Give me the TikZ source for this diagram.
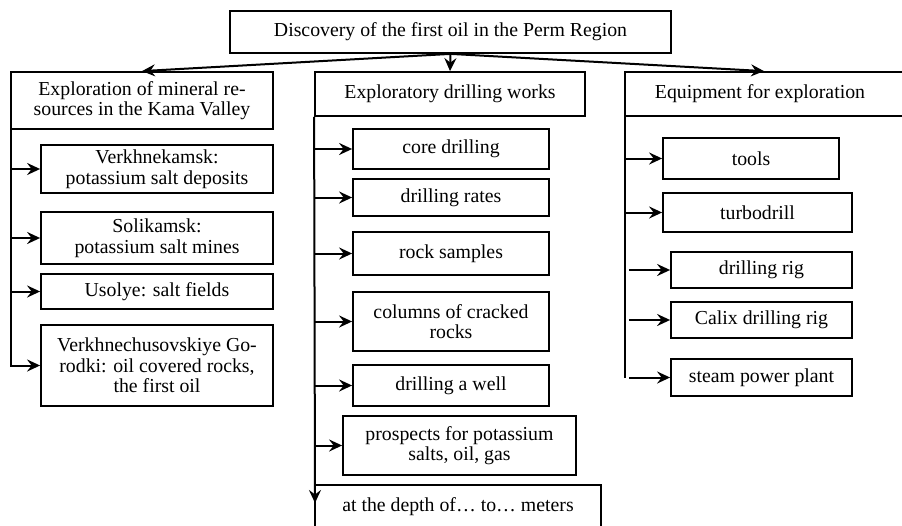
\documentclass[tikz,border=0pt]{standalone}
\usepackage{fontspec}
\setmainfont{Liberation Serif}
\usetikzlibrary{arrows.meta}

\begin{document}
\begin{tikzpicture}[x=1pt,y=-1pt,
  box/.style={draw,line width=1.8pt,align=center,inner sep=0pt,
    font=\fontsize{19.8}{20.5}\selectfont},
  arr/.style={line width=2pt,-{Stealth[length=13pt,width=12pt,inset=4.5pt]}}]
\useasboundingbox (0,0) rectangle (902,525);
\clip (0,0) rectangle (902,525);

\node [box,minimum width=441pt,minimum height=42pt] at (450.5,32) (top)
  {Discovery of the first oil in the Perm Region};

\node [box,minimum width=262pt,minimum height=57pt] at (142,100.5) (lhead)
  {Exploration of mineral re-\\sources in the Kama Valley};
\node [box,minimum width=270pt,minimum height=44pt] at (450,94) (mhead)
  {Exploratory drilling works};
\node [box,minimum width=278pt,minimum height=44pt] at (764,94) (rhead)
  {\hspace*{-4pt}Equipment for exploration\hspace*{4pt}};

  \begin{scope}[every node/.style={box,minimum width=232pt}]
    \node [minimum height=48pt] at (157,169) (vkam)
      {Verkhnekamsk:\\potassium salt deposits};
    \node [minimum height=52pt] at (157,238) (soli)
      {Solikamsk:\\potassium salt mines};
    \node [minimum height=35pt] at (157,291.5) (usol)
      {Usolye: salt fields};
    \node [minimum height=81pt] at (157,365.5) (vchu)
      {Verkhnechusovskiye Go-\\rodki: oil covered rocks,\\the first oil};
  \end{scope}

  \begin{scope}[every node/.style={box,minimum width=196pt}]
    \node [minimum height=40pt] at (451,149) (core) {core drilling};
    \node [minimum height=37pt] at (451,197.5) (rates) {drilling rates};
    \node [minimum height=43pt] at (451,253.5) (samp) {rock samples};
    \node [minimum height=59pt] at (451,321.5) (cols)
      {columns of cracked\\rocks};
    \node [minimum height=41pt] at (451,385.5) (well) {drilling a well};
  \end{scope}
  \node [box,minimum width=233pt,minimum height=59pt] at (459.5,445.5) (prosp)
    {prospects for potassium\\salts, oil, gas};
  \node [box,minimum width=286pt,minimum height=44pt] at (458,507) (depth)
    {at the depth of\dots{} to\dots{} meters};
  \coordinate (mend) at (315,503);

  \node [box,minimum width=176pt,minimum height=41pt] at (751,158.5) (tools) {tools};
  \node [box,minimum width=189pt,minimum height=39pt] at (757.5,212.5) (turbo) {turbodrill};
  \begin{scope}[every node/.style={box,minimum width=181pt}]
    \node [minimum height=36pt] at (761.5,270) (rig) {drilling rig};
    \node [minimum height=36pt] at (761.5,320) (calix) {Calix drilling rig};
    \node [minimum height=37pt] at (761.5,377.5) (steam) {steam power plant};
  \end{scope}

  \draw [arr] (top.south) -- (lhead.north);
  \draw [arr] (top.south) -- (mhead.north);
  \draw [arr] (top.south) -- (rhead.north);

  \draw [arr] ([xshift=1pt]lhead.south west |- vkam.west) -- (vkam.west);
  \draw [arr] ([xshift=1pt]lhead.south west |- soli.west) -- (soli.west);
  \draw [arr] ([xshift=1pt]lhead.south west |- usol.west) -- (usol.west);
  \draw [arr] ([xshift=1pt]lhead.south west) |- (vchu.west);

  \draw [arr] (mhead.south west) -- (mend);
  \draw [arr] (mhead.south west |- core.west) -- (core.west);
  \draw [arr] (mhead.south west |- rates.west) -- (rates.west);
  \draw [arr] (mhead.south west |- samp.west) -- (samp.west);
  \draw [arr] (mhead.south west |- cols.west) -- (cols.west);
  \draw [arr] (mhead.south west |- well.west) -- (well.west);
  \draw [arr] (mhead.south west |- prosp.west) -- (prosp.west);

  \draw [arr] ([xshift=1pt]rhead.south west |- tools.west) -- (tools.west);
  \draw [arr] ([xshift=1pt]rhead.south west |- turbo.west) -- (turbo.west);
  \draw [arr] ([xshift=5pt]rhead.south west |- rig.west) -- (rig.west);
  \draw [arr] ([xshift=5pt]rhead.south west |- calix.west) -- (calix.west);
  \draw [arr] ([xshift=5pt]rhead.south west |- steam.west) -- (steam.west);
  \draw [line width=2pt] ([xshift=1pt]rhead.south west)
    -- ([xshift=1pt]rhead.south west |- steam.west);
\end{tikzpicture}
\end{document}
